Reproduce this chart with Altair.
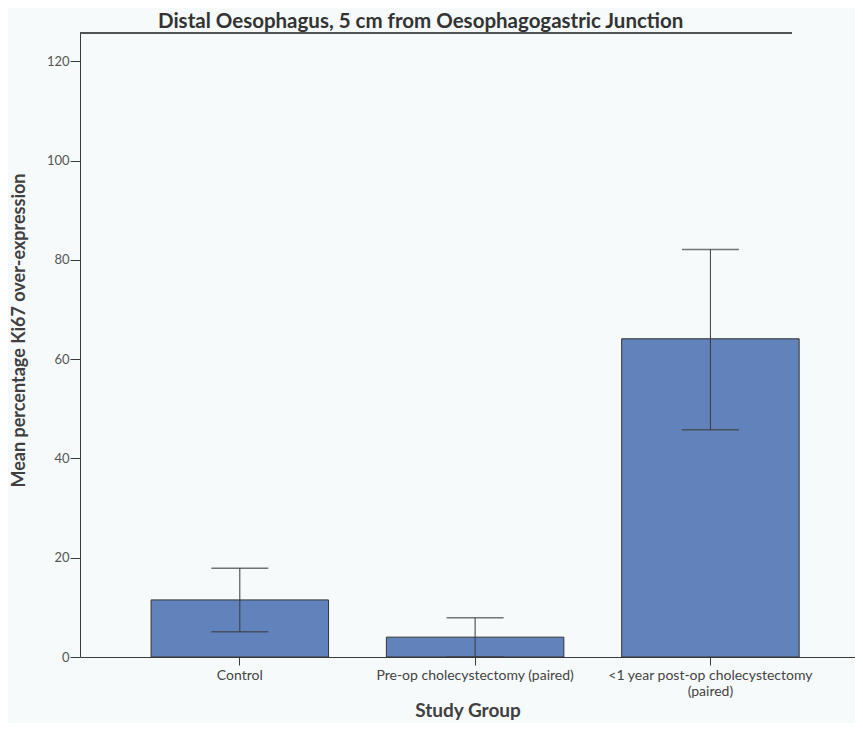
import altair as alt
import pandas as pd

groups = ["Control", "Pre-op cholecystectomy (paired)", "<1 year post-op cholecystectomy (paired)"]
means = [11.5, 4.0, 64.1]
lower = [5.1, 0.0, 45.8]
upper = [17.9, 7.9, 82.1]
y_ticks = [0, 20, 40, 60, 80, 100, 120]

df = pd.DataFrame({"group": groups, "mean": means, "lo": lower, "hi": upper})

FONT = "Lato"
DARK = "#3a3a3a"

x_scale = alt.Scale(paddingInner=0.2457, paddingOuter=0.2697, align=0.56)
y_scale = alt.Scale(domain=[0, 125.7], nice=False)

x_enc = alt.X(
    "group:N",
    sort=groups,
    scale=x_scale,
    axis=alt.Axis(
        title="Study Group",
        labelAngle=0,
        labelFont=FONT,
        labelFontSize=14,
        labelColor="#444",
        labelPadding=3,
        labelLineHeight=16,
        labelLimit=0,
        labelExpr="datum.label == '<1 year post-op cholecystectomy (paired)' ? ['<1 year post-op cholecystectomy', '(paired)'] : datum.label",
        tickSize=8,
        tickColor=DARK,
        domainColor=DARK,
        titleFont=FONT,
        titleFontSize=19,
        titleFontWeight="bold",
        titleColor="#404040",
        titleY=44,
    ),
)

bars = alt.Chart(df).mark_bar(color="#6182ba", stroke="#333", strokeWidth=1).encode(
    x=x_enc,
    y=alt.Y(
        "mean:Q",
        scale=y_scale,
        axis=alt.Axis(
            title="Mean percentage Ki67 over-expression",
            values=y_ticks,
            grid=False,
            labelFont=FONT,
            labelFontSize=13,
            labelColor="#555",
            labelPadding=1,
            tickSize=10,
            tickColor=DARK,
            domainColor=DARK,
            titleFont=FONT,
            titleFontSize=18,
            titleFontWeight="bold",
            titleColor="#404040",
            titleX=-52,
            titleY=297,
        ),
    ),
)

stems = alt.Chart(df).mark_rule(color=DARK, strokeWidth=1).encode(
    x=alt.X("group:N", sort=groups, scale=x_scale),
    y=alt.Y("lo:Q", scale=y_scale),
    y2="hi:Q",
)

caps_hi = alt.Chart(df).mark_tick(color=DARK, size=57, thickness=1.5).encode(
    x=alt.X("group:N", sort=groups, scale=x_scale),
    y=alt.Y("hi:Q", scale=y_scale),
)
caps_lo = alt.Chart(df).mark_tick(color=DARK, size=57, thickness=1.5).encode(
    x=alt.X("group:N", sort=groups, scale=x_scale),
    y=alt.Y("lo:Q", scale=y_scale),
)

top_line = alt.Chart(df).mark_rule(color=DARK, strokeWidth=1).encode(
    x=alt.value(0), x2=alt.value(712), y=alt.value(0)
)

chart = (
    alt.layer(bars, stems, caps_hi, caps_lo, top_line)
    .properties(
        width=775,
        height=624,
        autosize=alt.AutoSizeParams(type="none"),
        padding={"left": 72, "top": 25, "right": 0, "bottom": 66},
        background="#f6fafb",
        title=alt.TitleParams(
            "Distal Oesophagus, 5 cm from Oesophagogastric Junction",
            font=FONT,
            fontSize=20.5,
            fontWeight="bold",
            color="#333",
            anchor="start",
            frame="group",
            dx=78,
            offset=0,
        ),
    )
    .configure_view(stroke=None)
)

chart.save("out.html", embed_options={"renderer": "svg", "actions": False})
